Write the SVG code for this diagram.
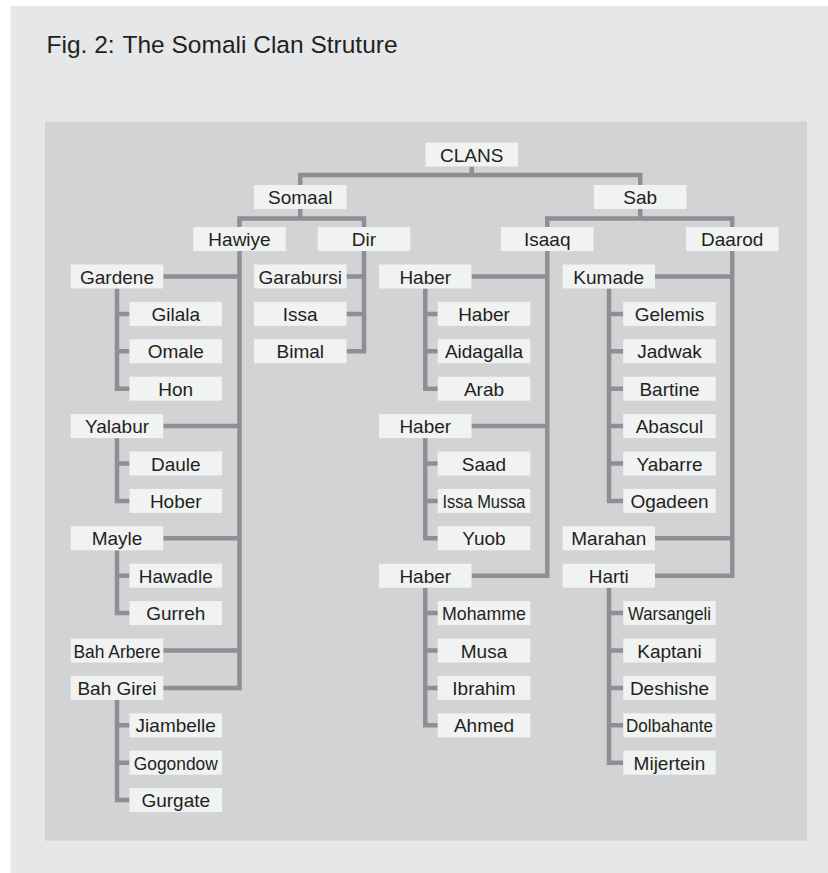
<svg xmlns="http://www.w3.org/2000/svg" width="828" height="873" viewBox="0 0 828 873">
<style>
.bx{fill:#f1f2f2}
.t{font-family:"Liberation Sans",Arial,sans-serif;font-size:19px;fill:#231f20;text-anchor:middle}
.ln{fill:none;stroke:#8d8f92;stroke-width:4.5;stroke-linejoin:miter;stroke-linecap:butt}
</style>
<rect x="0" y="0" width="828" height="873" fill="#ffffff"/>
<rect x="10.5" y="6" width="817.5" height="867" fill="#e6e7e8"/>
<text x="46.5" y="52.7" style="font-family:'Liberation Sans',Arial,sans-serif;font-size:24.5px;fill:#231f20"><tspan>Fig. 2:</tspan><tspan x="122.5">The Somali Clan Struture</tspan></text>
<rect x="45" y="121.5" width="762" height="719.2" fill="#d1d3d4"/>

<g id="connectors" class="ln">
<path d="M471.75 166.5V175"/>
<path d="M300.25 185V175H640.25V185"/>
<path d="M300.25 209V218.5"/>
<path d="M239.5 227V218.5H364V227"/>
<path d="M640.25 209V218.5"/>
<path d="M547.25 227V218.5H732.25V227"/>
<!-- Hawiye -->
<path d="M239.5 251V687.9H163.25"/>
<path d="M163.25 276.5H239.5M163.25 426.1H239.5M163.25 538.3H239.5M163.25 650.5H239.5"/>
<!-- Gardene -->
<path d="M117 288.5V388.7H129.5"/>
<path d="M117 313.9H129.5M117 351.3H129.5"/>
<!-- Yalabur -->
<path d="M117 438.1V500.9H129.5"/>
<path d="M117 463.5H129.5"/>
<!-- Mayle -->
<path d="M117 550.3V613.1H129.5"/>
<path d="M117 575.7H129.5"/>
<!-- Bah Girei -->
<path d="M117 699.9V800.1H129.5"/>
<path d="M117 725.3H129.5M117 762.7H129.5"/>
<!-- Dir -->
<path d="M364 251V351.3H346.5"/>
<path d="M346.5 276.5H364M346.5 313.9H364"/>
<!-- Isaaq -->
<path d="M547.25 251V575.7H471.5"/>
<path d="M471.5 276.5H547.25M471.5 426.1H547.25"/>
<!-- Haber subs -->
<path d="M425.25 288.5V388.7H437.75"/>
<path d="M425.25 313.9H437.75M425.25 351.3H437.75"/>
<path d="M425.25 438.1V538.3H437.75"/>
<path d="M425.25 463.5H437.75M425.25 500.9H437.75"/>
<path d="M425.25 587.7V725.3H437.75"/>
<path d="M425.25 613.1H437.75M425.25 650.5H437.75M425.25 687.9H437.75"/>
<!-- Daarod -->
<path d="M732.25 251V575.7H655"/>
<path d="M655 276.5H732.25M655 538.3H732.25"/>
<!-- Kumade -->
<path d="M609 288.5V500.9H623.25"/>
<path d="M609 313.9H623.25M609 351.3H623.25M609 388.7H623.25M609 426.1H623.25M609 463.5H623.25"/>
<!-- Harti -->
<path d="M609 587.7V762.7H623.25"/>
<path d="M609 613.1H623.25M609 650.5H623.25M609 687.9H623.25M609 725.3H623.25"/>
</g>

<g id="n-clans"><rect class="bx" x="425.5" y="142.5" width="92.5" height="24"/><text class="t" x="471.75" y="161.5">CLANS</text></g>
<g id="n-somaal"><rect class="bx" x="254" y="185" width="92.5" height="24"/><text class="t" x="300.25" y="204">Somaal</text></g>
<g id="n-sab"><rect class="bx" x="594" y="185" width="92.5" height="24"/><text class="t" x="640.25" y="204">Sab</text></g>
<g id="n-hawiye"><rect class="bx" x="193.25" y="227" width="92.5" height="24"/><text class="t" x="239.5" y="246">Hawiye</text></g>
<g id="n-dir"><rect class="bx" x="317.75" y="227" width="92.5" height="24"/><text class="t" x="364" y="246">Dir</text></g>
<g id="n-isaaq"><rect class="bx" x="501" y="227" width="92.5" height="24"/><text class="t" x="547.25" y="246">Isaaq</text></g>
<g id="n-daarod"><rect class="bx" x="686" y="227" width="92.5" height="24"/><text class="t" x="732.25" y="246">Daarod</text></g>

<g id="n-gardene"><rect class="bx" x="70.75" y="264.5" width="92.5" height="24"/><text class="t" x="117" y="283.5">Gardene</text></g>
<g id="n-gilala"><rect class="bx" x="129.5" y="301.9" width="92.5" height="24"/><text class="t" x="175.75" y="320.9">Gilala</text></g>
<g id="n-omale"><rect class="bx" x="129.5" y="339.3" width="92.5" height="24"/><text class="t" x="175.75" y="358.3">Omale</text></g>
<g id="n-hon"><rect class="bx" x="129.5" y="376.7" width="92.5" height="24"/><text class="t" x="175.75" y="395.7">Hon</text></g>
<g id="n-yalabur"><rect class="bx" x="70.75" y="414.1" width="92.5" height="24"/><text class="t" x="117" y="433.1">Yalabur</text></g>
<g id="n-daule"><rect class="bx" x="129.5" y="451.5" width="92.5" height="24"/><text class="t" x="175.75" y="470.5">Daule</text></g>
<g id="n-hober"><rect class="bx" x="129.5" y="488.9" width="92.5" height="24"/><text class="t" x="175.75" y="507.9">Hober</text></g>
<g id="n-mayle"><rect class="bx" x="70.75" y="526.3" width="92.5" height="24"/><text class="t" x="117" y="545.3">Mayle</text></g>
<g id="n-hawadle"><rect class="bx" x="129.5" y="563.7" width="92.5" height="24"/><text class="t" x="175.75" y="582.7">Hawadle</text></g>
<g id="n-gurreh"><rect class="bx" x="129.5" y="601.1" width="92.5" height="24"/><text class="t" x="175.75" y="620.1">Gurreh</text></g>
<g id="n-baharbere"><rect class="bx" x="70.75" y="638.5" width="92.5" height="24"/><text class="t" x="117" y="657.5" textLength="87" lengthAdjust="spacingAndGlyphs">Bah Arbere</text></g>
<g id="n-bahgirei"><rect class="bx" x="70.75" y="675.9" width="92.5" height="24"/><text class="t" x="117" y="694.9">Bah Girei</text></g>
<g id="n-jiambelle"><rect class="bx" x="129.5" y="713.3" width="92.5" height="24"/><text class="t" x="175.75" y="732.3">Jiambelle</text></g>
<g id="n-gogondow"><rect class="bx" x="129.5" y="750.7" width="92.5" height="24"/><text class="t" x="175.75" y="769.7" textLength="84" lengthAdjust="spacingAndGlyphs">Gogondow</text></g>
<g id="n-gurgate"><rect class="bx" x="129.5" y="788.1" width="92.5" height="24"/><text class="t" x="175.75" y="807.1">Gurgate</text></g>

<g id="n-garabursi"><rect class="bx" x="254" y="264.5" width="92.5" height="24"/><text class="t" x="300.25" y="283.5">Garabursi</text></g>
<g id="n-issa"><rect class="bx" x="254" y="301.9" width="92.5" height="24"/><text class="t" x="300.25" y="320.9">Issa</text></g>
<g id="n-bimal"><rect class="bx" x="254" y="339.3" width="92.5" height="24"/><text class="t" x="300.25" y="358.3">Bimal</text></g>

<g id="n-haber1"><rect class="bx" x="379" y="264.5" width="92.5" height="24"/><text class="t" x="425.25" y="283.5">Haber</text></g>
<g id="n-haber1a"><rect class="bx" x="437.75" y="301.9" width="92.5" height="24"/><text class="t" x="484" y="320.9">Haber</text></g>
<g id="n-aidagalla"><rect class="bx" x="437.75" y="339.3" width="92.5" height="24"/><text class="t" x="484" y="358.3">Aidagalla</text></g>
<g id="n-arab"><rect class="bx" x="437.75" y="376.7" width="92.5" height="24"/><text class="t" x="484" y="395.7">Arab</text></g>
<g id="n-haber2"><rect class="bx" x="379" y="414.1" width="92.5" height="24"/><text class="t" x="425.25" y="433.1">Haber</text></g>
<g id="n-saad"><rect class="bx" x="437.75" y="451.5" width="92.5" height="24"/><text class="t" x="484" y="470.5">Saad</text></g>
<g id="n-issamussa"><rect class="bx" x="437.75" y="488.9" width="92.5" height="24"/><text class="t" x="484" y="507.9" textLength="83" lengthAdjust="spacingAndGlyphs">Issa Mussa</text></g>
<g id="n-yuob"><rect class="bx" x="437.75" y="526.3" width="92.5" height="24"/><text class="t" x="484" y="545.3">Yuob</text></g>
<g id="n-haber3"><rect class="bx" x="379" y="563.7" width="92.5" height="24"/><text class="t" x="425.25" y="582.7">Haber</text></g>
<g id="n-mohamme"><rect class="bx" x="437.75" y="601.1" width="92.5" height="24"/><text class="t" x="484" y="620.1" textLength="84" lengthAdjust="spacingAndGlyphs">Mohamme</text></g>
<g id="n-musa"><rect class="bx" x="437.75" y="638.5" width="92.5" height="24"/><text class="t" x="484" y="657.5">Musa</text></g>
<g id="n-ibrahim"><rect class="bx" x="437.75" y="675.9" width="92.5" height="24"/><text class="t" x="484" y="694.9">Ibrahim</text></g>
<g id="n-ahmed"><rect class="bx" x="437.75" y="713.3" width="92.5" height="24"/><text class="t" x="484" y="732.3">Ahmed</text></g>

<g id="n-kumade"><rect class="bx" x="562.5" y="264.5" width="92.5" height="24"/><text class="t" x="608.75" y="283.5">Kumade</text></g>
<g id="n-gelemis"><rect class="bx" x="623.25" y="301.9" width="92.5" height="24"/><text class="t" x="669.5" y="320.9">Gelemis</text></g>
<g id="n-jadwak"><rect class="bx" x="623.25" y="339.3" width="92.5" height="24"/><text class="t" x="669.5" y="358.3">Jadwak</text></g>
<g id="n-bartine"><rect class="bx" x="623.25" y="376.7" width="92.5" height="24"/><text class="t" x="669.5" y="395.7">Bartine</text></g>
<g id="n-abascul"><rect class="bx" x="623.25" y="414.1" width="92.5" height="24"/><text class="t" x="669.5" y="433.1">Abascul</text></g>
<g id="n-yabarre"><rect class="bx" x="623.25" y="451.5" width="92.5" height="24"/><text class="t" x="669.5" y="470.5">Yabarre</text></g>
<g id="n-ogadeen"><rect class="bx" x="623.25" y="488.9" width="92.5" height="24"/><text class="t" x="669.5" y="507.9">Ogadeen</text></g>
<g id="n-marahan"><rect class="bx" x="562.5" y="526.3" width="92.5" height="24"/><text class="t" x="608.75" y="545.3">Marahan</text></g>
<g id="n-harti"><rect class="bx" x="562.5" y="563.7" width="92.5" height="24"/><text class="t" x="608.75" y="582.7">Harti</text></g>
<g id="n-warsangeli"><rect class="bx" x="623.25" y="601.1" width="92.5" height="24"/><text class="t" x="669.5" y="620.1" textLength="83" lengthAdjust="spacingAndGlyphs">Warsangeli</text></g>
<g id="n-kaptani"><rect class="bx" x="623.25" y="638.5" width="92.5" height="24"/><text class="t" x="669.5" y="657.5">Kaptani</text></g>
<g id="n-deshishe"><rect class="bx" x="623.25" y="675.9" width="92.5" height="24"/><text class="t" x="669.5" y="694.9">Deshishe</text></g>
<g id="n-dolbahante"><rect class="bx" x="623.25" y="713.3" width="92.5" height="24"/><text class="t" x="669.5" y="732.3" textLength="87" lengthAdjust="spacingAndGlyphs">Dolbahante</text></g>
<g id="n-mijertein"><rect class="bx" x="623.25" y="750.7" width="92.5" height="24"/><text class="t" x="669.5" y="769.7">Mijertein</text></g>
</svg>
